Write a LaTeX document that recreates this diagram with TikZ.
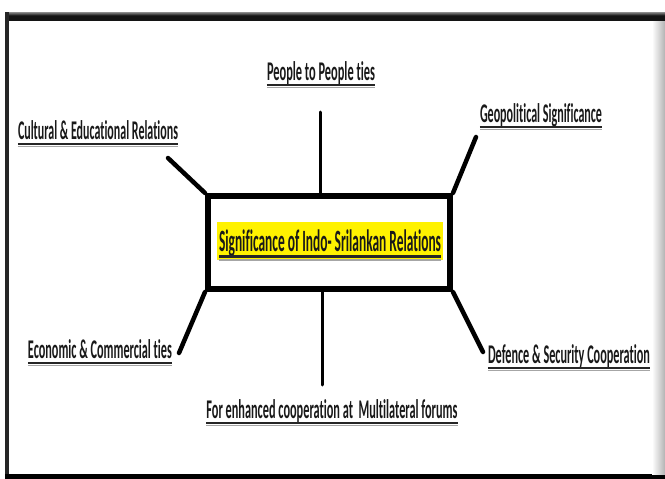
\documentclass[tikz,border=0pt]{standalone}
\usepackage{fontspec}
\newfontfamily\lbl[Ligatures={NoCommon}]{Carlito}
\usetikzlibrary{calc}
\tikzset{
  lab/.style={anchor=base, inner sep=0pt, text=black!90},
  conn/.style={line width=4.5pt, line cap=round},
  vconn/.style={line width=3pt, line cap=round},
  uline/.style={line width=2.4pt, black!85},
  ushadow/.style={line width=1.4pt, black!35},
  corebox/.style={draw, line width=6pt, minimum width=242pt, minimum height=93pt, inner sep=0pt},
}
\newcommand{\labtxt}[3]{\resizebox{#1pt}{\height}{\fontsize{#2}{#2}\selectfont\lbl\bfseries #3}}
\newcommand{\ul}[1]{%
  \draw[ushadow] ($(#1.base west)+(0,7.5)$) -- ($(#1.base east)+(0,7.5)$);
  \draw[uline] ($(#1.base west)+(0,5)$) -- ($(#1.base east)+(0,5)$);}
\begin{document}
\begin{tikzpicture}[x=1pt,y=-1pt]
\useasboundingbox (0,0) rectangle (665,479);
\fill[white] (0,0) rectangle (665,479);
% frame
\shade[top color=black!45, bottom color=black] (5,12) rectangle (665,16);
\fill[black!92] (5,16) rectangle (665,21);
\fill[black!85] (5,12) rectangle (9,479);
\fill[black] (5,474) rectangle (665,479);
\shade[left color=white, right color=black!30] (652,21) rectangle (665,474);

% central box
\node[corebox] (core) at (329,242.5) {};

% free ends
\coordinate (etl) at (168,158);
\coordinate (etr) at (476,137);
\coordinate (ebl) at (179,353);
\coordinate (ebr) at (483,352);
\coordinate (etop) at (320,112);
\coordinate (ebot) at (322,385);

\draw[conn] (etl) -- (core.north west);
\draw[conn] (etr) -- (core.north east);
\draw[conn] (ebl) -- (core.south west);
\draw[conn] (ebr) -- (core.south east);
\draw[vconn] (etop) -- (etop |- core.north);
\draw[vconn] (ebot) -- (ebot |- core.south);

% centre label
\node[lab, fill=yellow, text height=29pt, text depth=9pt, minimum width=226pt] (ctr) at (330,251)
  {\labtxt{222}{31}{Significance of Indo- Srilankan Relations}};
\draw[ushadow] (219,260) -- (441,260);
\draw[uline] (219,256.5) -- (441,256.5);

% labels
\node[lab] (people) at (321,80) {\labtxt{108}{27}{People to People ties}};
\node[lab] (cult) at (98,139) {\labtxt{160}{27}{Cultural \& Educational Relations}};
\node[lab] (geo) at (541,122) {\labtxt{122}{27}{Geopolitical Significance}};
\node[lab] (econ) at (100,358) {\labtxt{144}{27}{Economic \& Commercial ties}};
\node[lab] (def) at (569,363) {\labtxt{162}{27}{Defence \& Security Cooperation}};
\node[lab] (multi) at (332,418) {\labtxt{251}{27}{For enhanced cooperation at\ \ Multilateral forums}};
\ul{people}
\ul{cult}
\ul{geo}
\ul{econ}
\ul{def}
\ul{multi}
\end{tikzpicture}
\end{document}
